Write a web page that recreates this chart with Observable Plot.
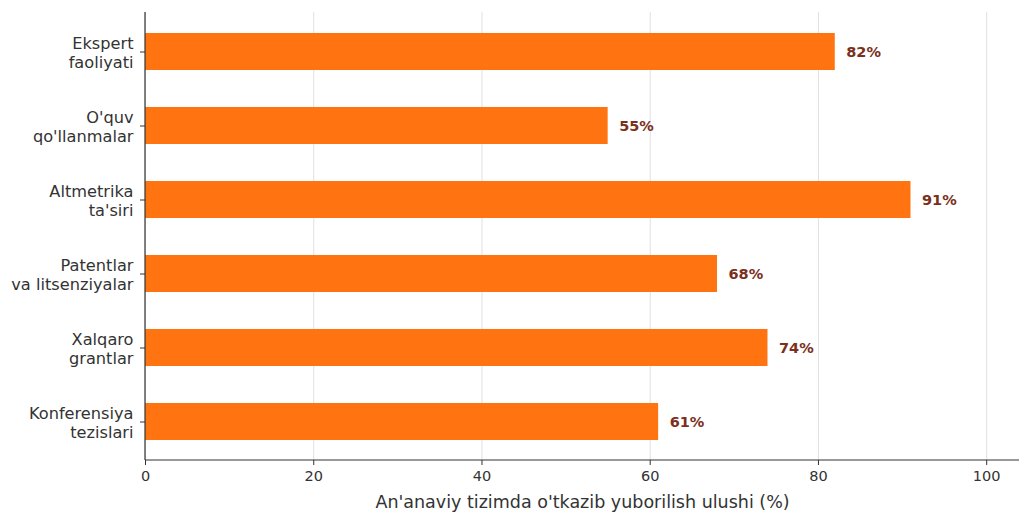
<!DOCTYPE html>
<html><head><meta charset="utf-8">
<script src="https://cdn.jsdelivr.net/npm/d3@7"></script>
<script src="https://cdn.jsdelivr.net/npm/@observablehq/plot@0.6"></script>
<style>body{margin:0;background:#fff;overflow:hidden}</style>
</head><body><div id="chart"></div>
<script>
const categories = [
  "Ekspert\nfaoliyati",
  "O'quv\nqo'llanmalar",
  "Altmetrika\nta'siri",
  "Patentlar\nva litsenziyalar",
  "Xalqaro\ngrantlar",
  "Konferensiya\ntezislari"
];
const values = [82, 55, 91, 68, 74, 61];
const xTicks = [0, 20, 40, 60, 80, 100];
const xLabel = "An'anaviy tizimda o'tkazib yuborilish ulushi (%)";

const data = categories.map((c, i) => ({category: c, value: values[i]}));

const spines = (index, scales, values, dims) => {
  const g = d3.create("svg:g");
  const left = dims.marginLeft, bottom = dims.height - dims.marginBottom, top = dims.marginTop, right = dims.width - dims.marginRight;
  g.append("line").attr("x1", left).attr("x2", left).attr("y1", top).attr("y2", bottom).attr("stroke", "#333").attr("stroke-width", 1.2);
  g.append("line").attr("x1", left).attr("x2", right).attr("y1", bottom).attr("y2", bottom).attr("stroke", "#333").attr("stroke-width", 1.2);
  return g.node();
};

const chart = Plot.plot({
  width: 1019,
  height: 513,
  marginTop: 12,
  marginBottom: 53,
  marginLeft: 145,
  marginRight: 0,
  style: {fontFamily: "DejaVu Sans", fontSize: "14px", color: "#333", background: "#fff"},
  x: {domain: [0, 103.9]},
  y: {domain: categories, paddingInner: 0.5, paddingOuter: 0.277},
  marks: [
    Plot.gridX(xTicks, {stroke: "#e0e0e0", strokeOpacity: 1}),
    Plot.barX(data, {x: "value", y: "category", fill: "#ff7410"}),
    Plot.text(data, {x: "value", y: "category", text: d => d.value + "%", dx: 11, textAnchor: "start", fontWeight: "bold", fill: "#7a301c", fontSize: 14.5}),
    Plot.axisX({ticks: xTicks, tickSize: 5, tickPadding: 5, fontSize: 14.5, label: null, fill: "#333"}),
    Plot.axisX({ticks: [], tickSize: 0, label: xLabel, labelAnchor: "center", labelArrow: "none", labelOffset: 47, fontSize: 17.5, fill: "#333"}),
    Plot.axisY({tickSize: 5, tickPadding: 7, fontSize: 16.2, label: null, lineHeight: 1.18, fill: "#333"}),
    spines
  ]
});
document.getElementById("chart").appendChild(chart);
</script>
</body></html>
